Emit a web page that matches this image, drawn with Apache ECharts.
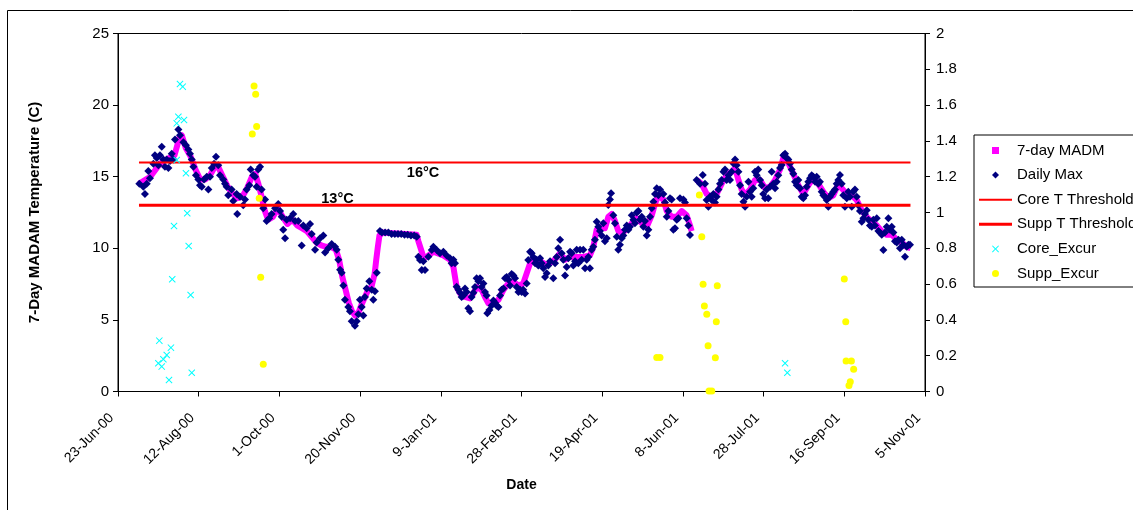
<!DOCTYPE html>
<html>
<head>
<meta charset="utf-8">
<script src="https://cdn.jsdelivr.net/npm/echarts@6/dist/echarts.min.js"></script>
<style>
html,body{margin:0;padding:0;background:#fff;}
#chart{width:1133px;height:510px;}
</style>
</head>
<body>
<div id="chart"></div>
<script>
// x values are days since 23-Jun-2000
const xTickLabels = ['23-Jun-00','12-Aug-00','1-Oct-00','20-Nov-00','9-Jan-01','28-Feb-01','19-Apr-01','8-Jun-01','28-Jul-01','16-Sep-01','5-Nov-01'];

const madmPart1 = [
[13,14.5],[20,15.0],[26,15.9],[30,16.2],[35,16.5],[38,17.7],[39.5,17.9],[42,17.0],[45,16.4],[48,15.5],
[51,14.8],[54,14.8],[57,15.1],[60,15.7],[62,15.7],[65,15.0],[68,14.3],[71,13.8],[74,13.5],[77,13.6],
[80,14.2],[83,15.0],[85,15.2],[87,14.5],[89,13.6],[91,12.6],[93,12.0],[96,12.2],[99,12.8],[102,12.2],
[105,11.7],[108,12.0],[111,11.6],[114,11.4],[117,11.2],[120,10.8],[123,10.4],[126,10.2],[129,10.1],[132,10.1],
[135,9.9],[137,9.2],[139,8.0],[141,7.1],[143,6.2],[145,5.6],[147,5.3],[149,5.5],[151,6.1],[153,6.6],
[155,7.1],[157,7.3],[159,8.2],[160,9.2],[161,10.1],[162,10.9],[164,11.1],[170,11.05],[178,11.0],[185,10.95],
[186.1,10.5],[189.2,9.4],[191.3,9.4],[195.4,9.76],[201.6,9.5],[205.7,9.2],[207.8,8.7],[208.8,8.0],[209.8,7.3],[211.9,6.85],
[215.0,6.6],[218.1,6.5],[220.2,6.85],[222.2,7.3],[225.3,7.1],[227.4,6.6],[229.5,6.15],[232.6,6.15],[235.7,6.4],[238.8,7.1],
[241.9,7.55],[245.0,7.65],[248.1,7.4],[251.1,7.55],[253.2,8.25],[255.3,8.95],[257.3,9.2],[261.5,9.1],[265.6,8.85],[269.7,9.1],
[273.9,9.65],[277.0,9.2],[280.1,9.4],[284.2,9.4],[288.3,9.4],[292.4,9.5],[294.5,10.1],[296.6,11.3],[298.6,11.5],[301.7,11.4],
[303.8,12.2],[305.9,12.4],[307.9,11.9],[310.0,11.2],[312.1,11.1],[315.2,11.3],[318.3,11.75],[321.4,12.1],[324.5,11.75],[327.6,11.5],
[330.7,12.3],[332.7,13.1],[334.8,13.7],[337.9,13.4],[340.0,12.6],[343.0,12.2],[346.2,12.2],[349.3,12.6],[352.3,12.3],[354.4,11.6],
[355.4,11.2]
];
const madmPart2 = [
[358.5,14.77],[361.6,14.5],[364.7,13.8],[367.8,13.6],[370.9,13.8],[374.0,14.5],[377.1,15.1],[380.2,15.35],[382.3,15.6],[384.4,14.77],
[386.4,14.1],[388.5,13.7],[391.6,14.1],[394.7,14.77],[397.8,14.77],[400.9,14.2],[404.0,14.3],[407.1,14.77],[410.2,15.5],[412.2,16.3],
[414.3,16.2],[416.4,15.7],[418.4,15.2],[421.5,14.4],[424.6,13.8],[427.7,14.4],[430.8,14.9],[433.9,14.5],[437.0,13.95],[440.1,13.5],
[443.2,13.7],[446.3,14.5],[448.4,14.2],[451.5,13.8],[454.6,13.7],[457.7,13.37],[460.8,12.65],[463.9,12.2],[467.0,11.86],[470.1,11.6],
[473.2,11.2],[476.3,10.95],[479.4,10.95],[482.5,10.6],[485.6,10.4],[488.7,10.1],[491.1,10.0]
];

const dailyMax = [
[13.2,14.5],[15.7,14.3],[16.7,13.8],[17.8,14.5],[18.8,15.4],[19.8,14.9],[21.9,15.9],[22.9,16.5],[24.0,16.3],[25.0,15.8],
[26.0,16.5],[27.1,17.1],[28.1,16.2],[29.1,15.7],[30.2,16.2],[31.2,15.6],[32.2,16.1],[33.3,16.6],[34.3,16.2],[35.3,17.6],
[37.4,18.3],[38.4,17.9],[40.5,17.4],[42.1,17.2],[43.6,16.9],[44.6,16.6],[45.7,16.2],[46.7,15.7],[48.3,15.1],[49.8,14.8],
[50.8,14.4],[51.9,14.3],[53.3,14.8],[55.0,15.0],[56.0,14.1],[57.0,15.0],[58.1,15.6],[59.5,15.9],[60.7,16.4],[62.1,15.8],
[63.2,15.1],[65.2,14.8],[66.3,14.5],[67.3,14.3],[68.3,13.7],[70.4,14.1],[71.4,13.3],[73.5,13.8],[73.9,12.4],[75.6,13.6],
[77.6,13.0],[78.7,13.4],[79.7,14.1],[81.4,14.4],[82.2,15.5],[83.8,15.1],[84.9,15.0],[85.9,14.3],[86.9,15.5],[88.0,15.7],
[89.0,14.1],[90.0,12.8],[91.1,13.4],[92.1,11.9],[93.7,12.1],[95.2,12.4],[97.3,12.8],[99.3,13.1],[100.4,12.6],[101.4,12.2],
[102.4,11.3],[103.5,10.7],[104.5,12.0],[106.6,12.1],[108.6,12.4],[109.7,11.9],[111.7,11.9],[113.8,10.2],[114.8,11.6],[116.9,11.4],
[119.0,11.7],[120.0,11.0],[122.1,9.9],[123.1,10.4],[125.2,10.7],[127.2,10.9],[128.3,9.7],[130.3,10.0],[132.4,10.3],[134.5,10.1],
[135.5,9.9],[136.5,9.2],[137.6,8.5],[138.6,8.3],[139.6,7.4],[140.6,6.4],[142.7,5.9],[143.7,5.6],[144.8,4.9],[146.8,4.6],
[147.9,4.9],[148.9,5.4],[149.9,6.4],[151.0,5.9],[152.0,5.3],[153.0,6.6],[154.1,7.2],[155.7,7.7],[157.2,7.1],[158.2,6.4],
[159.2,7.0],[160.3,8.3],[162.3,11.2],[163.5,11.1],[165.5,11.1],[167.5,11.1],[169.5,11.0],[171.5,11.0],[173.5,11.0],[175.5,11.0],
[177.5,10.95],[179.5,10.95],[181.5,10.9],[183.5,10.9],[185.1,10.8],
[186.1,9.41],[187.1,9.18],[188.2,8.48],[189.2,9.1],[190.2,8.48],[192.3,9.41],[194.4,9.88],[195.4,10.1],[197.4,9.88],[199.5,9.65],
[201.6,9.76],[203.6,9.5],[205.7,9.3],[206.7,8.95],[207.8,9.2],[208.8,8.95],[209.8,7.32],[210.9,7.1],[211.9,6.9],[212.9,6.6],
[214.0,6.7],[215.0,7.2],[216.0,6.95],[217.1,5.81],[218.1,5.6],[219.1,6.6],[220.2,6.9],[221.2,7.3],[222.2,7.9],[223.3,7.7],
[224.3,7.9],[225.3,7.3],[226.4,7.55],[227.4,6.95],[228.4,6.7],[228.8,5.46],[230.1,5.7],[231.5,6.0],[232.6,6.35],[233.6,6.2],
[234.6,6.0],[235.7,5.9],[236.7,6.7],[237.7,7.1],[238.8,7.2],[239.8,7.9],[240.8,8.0],[241.9,7.8],[242.9,7.4],[243.9,8.2],
[245.0,8.1],[246.0,7.9],[247.0,7.3],[248.1,6.95],[249.1,7.1],[250.1,6.95],[251.1,7.1],[252.2,6.85],[253.2,7.55],[254.2,9.18],
[255.3,9.76],[256.3,9.65],[257.3,9.4],[258.4,8.95],[259.4,9.2],[260.4,8.8],[261.5,9.3],[262.5,8.95],[263.5,8.6],[264.6,8.0],
[265.6,8.25],[266.6,8.8],[267.7,9.1],[269.7,7.9],[270.8,8.95],[271.8,9.4],[272.8,10.0],[273.9,10.6],[274.9,9.65],[275.9,9.2],
[277.0,8.1],[278.0,8.7],[279.0,9.3],[280.1,9.76],[281.1,9.65],[282.1,8.8],[283.2,9.1],[284.2,9.9],[285.2,8.95],[286.3,9.9],
[287.3,9.2],[288.3,9.9],[289.4,8.6],[290.4,9.2],[291.4,9.4],[292.4,8.6],[293.5,9.9],[294.5,10.1],[295.5,10.6],[296.6,11.86],
[297.6,11.5],[298.6,11.2],[299.7,10.9],[300.7,11.75],[301.7,10.5],[302.8,10.7],[303.8,13.02],[304.8,13.4],[305.5,13.84],[306.9,12.3],
[307.9,11.75],[309.0,10.8],[310.0,9.9],[311.0,10.25],[312.1,10.7],[313.1,10.9],[314.1,11.3],[315.2,11.6],[316.2,11.3],[317.2,11.5],
[318.3,12.3],[319.3,12.0],[320.3,11.75],[321.4,12.5],[322.4,12.6],[323.4,12.0],[324.5,12.2],[325.5,11.5],[326.5,11.9],[327.6,10.9],
[328.6,11.3],[329.6,12.2],[330.7,12.8],[331.7,13.25],[332.7,13.8],[333.8,14.19],[334.8,13.7],[335.8,14.1],[337.9,13.8],[338.9,13.2],
[340.0,12.2],[341.0,12.6],[342.0,13.5],[343.0,13.4],[344.1,11.3],[345.1,11.4],[346.2,12.0],[347.2,12.1],[348.2,13.5],[350.3,13.4],
[351.3,13.2],[352.3,12.1],[353.4,11.6],[354.4,10.93],
[358.5,14.77],[360.6,14.5],[362.3,15.12],[363.7,14.5],[364.7,13.37],[365.8,12.9],[366.8,13.6],[367.8,13.37],[368.9,13.8],[369.9,13.2],
[370.9,13.6],[372.0,14.1],[373.0,14.5],[374.0,14.77],[375.1,15.35],[376.1,15.5],[377.1,14.77],[378.2,15.1],[379.2,14.77],[380.2,15.35],
[381.3,15.93],[382.3,16.2],[383.3,15.8],[384.4,15.35],[385.4,14.4],[386.4,13.8],[387.5,13.25],[388.5,12.9],[389.5,13.6],[390.6,14.65],
[391.6,13.95],[392.6,13.6],[393.6,14.2],[394.7,15.35],[395.7,15.1],[396.7,15.5],[397.8,14.77],[398.8,14.4],[399.8,13.8],[400.9,13.5],
[401.9,14.1],[402.9,13.5],[404.0,14.3],[405.0,15.35],[406.0,14.5],[407.1,14.2],[408.1,14.65],[409.1,15.1],[410.2,15.6],[411.2,15.82],
[412.2,16.5],[413.3,16.6],[414.3,16.3],[415.3,16.2],[416.4,15.93],[417.4,15.5],[418.4,15.2],[419.5,14.65],[420.5,14.4],[421.5,14.77],
[422.6,14.2],[423.6,13.6],[424.6,13.5],[425.7,13.7],[426.7,14.3],[427.7,14.65],[428.8,14.9],[429.8,15.1],[430.8,15.0],[431.9,14.65],
[432.9,15.0],[433.9,14.5],[434.9,14.65],[436.0,13.95],[437.0,13.7],[438.0,13.6],[439.1,13.37],[440.1,12.9],[441.1,13.6],[442.2,13.8],
[443.2,13.95],[444.2,14.1],[445.3,14.5],[446.3,14.77],[447.3,15.12],[448.4,14.5],[449.4,13.7],[450.4,12.9],[451.5,13.5],[452.5,13.95],
[453.5,13.6],[454.6,12.9],[455.6,13.95],[456.6,14.1],[457.7,13.6],[458.7,13.0],[459.7,12.6],[460.8,11.86],[461.8,12.1],[462.8,12.4],
[463.9,12.65],[464.9,12.0],[465.9,11.6],[467.0,11.5],[468.0,12.0],[469.0,11.6],[470.1,12.1],[471.1,11.2],[472.1,11.1],[473.2,10.95],
[474.2,9.88],[475.2,11.1],[476.3,11.5],[477.3,12.1],[478.3,11.3],[479.4,11.5],[480.4,11.1],[481.4,10.5],[482.5,10.4],[483.5,10.6],
[484.5,10.0],[485.6,10.6],[486.6,10.25],[487.6,9.41],[488.7,10.1],[489.7,10.25],[490.7,10.25]
];

const coreThreshold = 16;
const suppThreshold = 13;
const thresholdDays = [13, 491];

const coreExcur = [
[38.4,1.718],[40.1,1.703],[37.4,1.535],[40.9,1.517],[36.4,1.498],[36.4,1.293],[42.1,1.219],[42.9,0.996],[34.7,0.925],[43.8,0.813],
[33.6,0.627],[45.0,0.539],[25.6,0.284],[32.8,0.245],[30.2,0.204],[28.1,0.18],[25.0,0.158],[27.1,0.139],[45.7,0.105],[31.6,0.064],
[413.3,0.158],[414.7,0.105]
];
const suppExcur = [
[84.3,1.707],[85.3,1.66],[85.9,1.48],[83.2,1.439],[87.5,1.079],[88.4,0.638],[90.0,0.152],
[333.8,0.19],[335.8,0.19],
[360.2,1.098],[361.7,0.865],[362.5,0.599],[371.3,0.591],[363.3,0.478],[364.8,0.431],[370.7,0.39],[365.6,0.256],[370.1,0.189],[366.2,0.003],[367.9,0.003],
[450.0,0.628],[450.9,0.39],[451.1,0.17],[454.4,0.17],[455.8,0.124],[453.7,0.055],[452.9,0.033]
];

const thresholdLabels = [
  {text:'16°C', day:189, temp:15.25},
  {text:'13°C', day:136, temp:13.45}
];

const FONT = 'Liberation Sans, Arial, sans-serif';
const X_PATH = 'path://M0,1L1,0L5,4L9,0L10,1L6,5L10,9L9,10L5,6L1,10L0,9L4,5Z';
const SQ_PATH = 'path://M0,0L10,0L10,10L0,10Z';
const DIA_PATH = 'path://M5,0L10,5L5,10L0,5Z';
const LINE2_PATH = 'path://M0,0L33,0L33,2L0,2Z';
const LINE3_PATH = 'path://M0,0L33,0L33,3L0,3Z';

const chart = echarts.init(document.getElementById('chart'), null, {renderer:'canvas'});

const option = {
  backgroundColor:'#fff',
  animation:false,
  textStyle:{fontFamily:FONT},
  grid:{left:118, right:208, top:33.5, bottom:118.5, show:true, borderColor:'#000', borderWidth:1, backgroundColor:'#fff'},
  legend:{
    orient:'vertical', left:974, top:135,
    itemWidth:33, itemHeight:7, itemGap:9.6, itemTextGap:5,
    padding:[8,60,6,5],
    borderColor:'#000', borderWidth:1, borderRadius:0,
    textStyle:{fontFamily:FONT, fontSize:15, color:'#000'},
    data:[
      {name:'7-day MADM', icon:SQ_PATH},
      {name:'Daily Max', icon:DIA_PATH},
      {name:'Core T Threshold', icon:LINE2_PATH},
      {name:'Supp T Threshold', icon:LINE3_PATH},
      {name:'Core_Excur', icon:X_PATH},
      {name:'Supp_Excur', icon:'circle'}
    ]
  },
  xAxis:{
    type:'value', min:0, max:500, interval:50,
    name:'Date', nameLocation:'middle', nameGap:87,
    nameTextStyle:{fontFamily:FONT, fontSize:14, fontWeight:'bold', color:'#000'},
    axisLine:{show:true, onZero:false, lineStyle:{color:'#000', width:1}},
    axisTick:{show:true, length:5, lineStyle:{color:'#000'}},
    axisLabel:{rotate:45, margin:18, fontSize:14, color:'#000', fontFamily:FONT, padding:[0,9,0,0],
      formatter:function(v){ return xTickLabels[Math.round(v/50)] || ''; }},
    splitLine:{show:false}
  },
  yAxis:[
    {
      type:'value', min:0, max:25, interval:5, position:'left',
      name:'7-Day MADAM Temperature (C)', nameLocation:'middle', nameGap:76, nameRotate:90,
      nameTextStyle:{fontFamily:FONT, fontSize:15, fontWeight:'bold', color:'#000'},
      axisLine:{show:true, lineStyle:{color:'#000', width:1}},
      axisTick:{show:true, length:5, lineStyle:{color:'#000'}},
      axisLabel:{fontSize:15, color:'#000', fontFamily:FONT, margin:9},
      splitLine:{show:false}
    },
    {
      type:'value', min:0, max:2, interval:0.2, position:'right',
      axisLine:{show:true, lineStyle:{color:'#000', width:1}},
      axisTick:{show:true, length:5, lineStyle:{color:'#000'}},
      axisLabel:{fontSize:15, color:'#000', fontFamily:FONT, margin:11},
      splitLine:{show:false}
    }
  ],
  series:[
    {
      name:'7-day MADM', type:'line', yAxisIndex:0,
      data: madmPart1.concat([[357,'-']], madmPart2),
      symbol:'none', connectNulls:false,
      lineStyle:{color:'#FF00FF', width:6, join:'round'},
      itemStyle:{color:'#FF00FF'},
      z:2
    },
    {
      name:'Daily Max', type:'scatter', yAxisIndex:0,
      data: dailyMax, symbol:'diamond', symbolSize:8,
      itemStyle:{color:'#000080', opacity:1},
      z:3
    },
    {
      name:'Core T Threshold', type:'line', yAxisIndex:0,
      data: thresholdDays.map(d => [d, coreThreshold]),
      symbol:'none', lineStyle:{color:'#FF0000', width:2}, itemStyle:{color:'#FF0000'},
      z:4
    },
    {
      name:'Supp T Threshold', type:'line', yAxisIndex:0,
      data: thresholdDays.map(d => [d, suppThreshold]),
      symbol:'none', lineStyle:{color:'#FF0000', width:3}, itemStyle:{color:'#FF0000'},
      z:4
    },
    {
      name:'Core_Excur', type:'scatter', yAxisIndex:1,
      data: coreExcur, symbol:X_PATH, symbolSize:7,
      itemStyle:{color:'#00FFFF', opacity:1},
      z:5
    },
    {
      name:'Supp_Excur', type:'scatter', yAxisIndex:1,
      data: suppExcur, symbol:'circle', symbolSize:7,
      itemStyle:{color:'#FFFF00', opacity:1},
      z:6
    }
  ]
};
chart.setOption(option);

// threshold text labels + outer frame
const g = [{
  type:'rect', shape:{x:7.5, y:10.5, width:1200, height:600},
  style:{fill:'none', stroke:'#000', lineWidth:1}, z:-1, silent:true
}];
thresholdLabels.forEach(l => {
  const p = chart.convertToPixel({xAxisIndex:0, yAxisIndex:0}, [l.day, l.temp]);
  g.push({type:'text', x:p[0], y:p[1], z:10,
    style:{text:l.text, fill:'#000', font:'bold 14.5px ' + FONT, textAlign:'center', textVerticalAlign:'middle'}});
});
chart.setOption({graphic:g});
</script>
</body>
</html>
